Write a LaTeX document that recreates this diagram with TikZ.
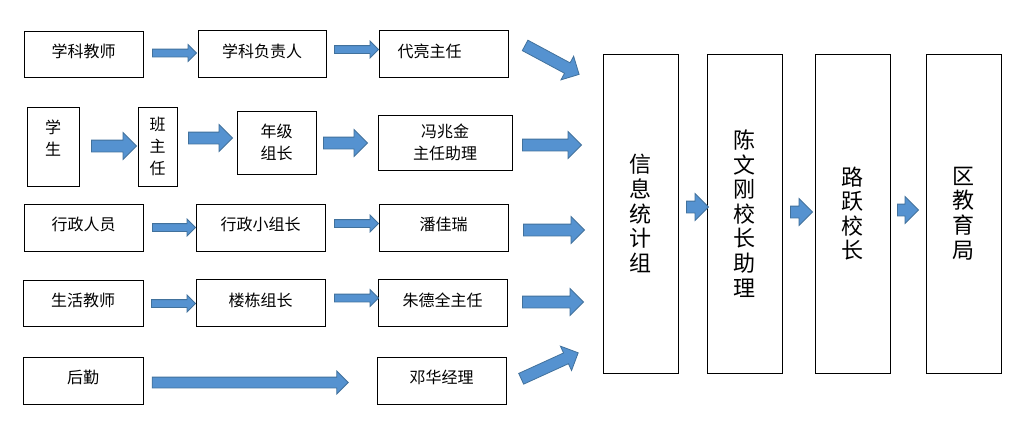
\documentclass[tikz,border=0pt]{standalone}
\usepackage{fontspec}
\newfontfamily\cjk{Noto Sans CJK SC}
\usepackage{tikz}
\usetikzlibrary{positioning, calc, shapes.arrows}

\definecolor{arrfill}{HTML}{5592D0}
\definecolor{arredge}{HTML}{41719C}

% block arrow from tail to tip
\newcommand{\blkarrow}[3]{%
  \path let \p1=#2, \p2=#3, \n1={veclen(\x2-\x1,\y2-\y1)} in
    #2 -- node[sloped, #1, minimum height=\n1] {} #3;}

\begin{document}
\begin{tikzpicture}[
    x=1pt, y=-1pt,
    box/.style={rectangle, draw, line width=1pt, fill=white, inner sep=0pt, align=center, font=\cjk\fontsize{16}{22}\selectfont},
    lift/.style={text depth=7pt},
    cell/.style={box, lift, minimum width=129pt, minimum height=47pt},
    bigbox/.style={box, minimum width=75pt, minimum height=319pt, font=\cjk\fontsize{22}{24.6}\selectfont},
    arr/.style={single arrow, draw=arredge, fill=arrfill, line width=0.8pt, inner xsep=0pt},
    slimarr/.style={arr, inner ysep=3.5pt, minimum width=16pt, single arrow head extend=4.5pt},
    midarr/.style={arr, inner ysep=5pt, minimum width=22pt, single arrow head extend=6pt},
    fatarr/.style={arr, inner ysep=5.5pt, minimum width=26pt, single arrow head extend=7.5pt}
]
    \fill[white] (0,0) rectangle (1027,437);
    \useasboundingbox (0,0) rectangle (1027,437);

    % row 1
    \node[box, lift, minimum width=119pt, minimum height=46pt] (kmjs) at (83.5,54) {学科教师};
    \node[cell, minimum width=128pt, right=54pt of kmjs] (kmfz) {学科负责人};
    \node[cell, right=52pt of kmfz] (dlzr) {代亮主任\hspace*{28pt}};

    % row 2
    \node[box, minimum width=52pt, minimum height=79pt, text depth=17pt] (xs) at (53,146.5) {学\\生};
    \node[box, minimum width=39pt, minimum height=79pt, right=58pt of xs] (bzr) {班\\主\\任};
    \node[box, minimum width=79pt, minimum height=63pt, right=59pt of bzr, yshift=4pt] (njzz) {年级\\组长};
    \node[box, minimum width=134pt, minimum height=55pt, right=61pt of njzz] (fzj) {冯兆金\\主任助理};

    % row 3
    \node[box, lift, minimum width=119pt, minimum height=47pt] (xzry) at (83.5,227.5) {行政人员};
    \node[cell, right=52pt of xzry] (xzxz) {行政小组长};
    \node[cell, right=53pt of xzxz] (pjr) {潘佳瑞};

    % row 4
    \node[box, lift, minimum width=120pt, minimum height=46pt] (shjs) at (83,303) {生活教师};
    \node[cell, right=52pt of shjs] (ldzz) {楼栋组长};
    \node[cell, right=52pt of ldzz] (zdq) {朱德全主任};

    % row 5
    \node[box, lift, minimum width=120pt, minimum height=47pt] (hq) at (83,380.5) {后勤};
    \node[cell, right=233pt of hq] (dh) {邓华经理};

    % right column
    \node[bigbox] (xxtj) at (640.5,213.5) {信\\息\\统\\计\\组};
    \node[bigbox, right=28pt of xxtj] (cwg) {陈\\文\\刚\\校\\长\\助\\理};
    \node[bigbox, right=32pt of cwg] (lyxz) {路\\跃\\校\\长};
    \node[bigbox, right=35pt of lyxz] (qjyj) {区\\教\\育\\局};

    % arrows
    \blkarrow{slimarr}{($(kmjs.east)+(7,-1)$)}{($(kmfz.west)+(-3,-1)$)}
    \blkarrow{slimarr}{($(kmfz.east)+(6,-4.5)$)}{($(dlzr.west)+(-2,-4.5)$)}
    \blkarrow{fatarr}{($(dlzr.east)+(14,-10)$)}{($(xxtj.west)+(-26,-140.5)$)}

    \blkarrow{fatarr}{($(xs.east)+(9,-0.5)$)}{($(bzr.west)+(-4,-0.5)$)}
    \blkarrow{fatarr}{($(bzr.east)+(8,-8.5)$)}{($(njzz.west)+(-7,-4.5)$)}
    \blkarrow{fatarr}{($(njzz.east)+(4,0.5)$)}{($(fzj.west)+(-13,0.5)$)}
    \blkarrow{fatarr}{($(fzj.east)+(7,2.5)$)}{($(xxtj.west)+(-24,-68.5)$)}

    \blkarrow{slimarr}{($(xzry.east)+(7,0)$)}{($(xzxz.west)+(-2,0)$)}
    \blkarrow{slimarr}{($(xzxz.east)+(7,-4)$)}{($(pjr.west)+(-2,-4)$)}
    \blkarrow{fatarr}{($(pjr.east)+(12,2.5)$)}{($(xxtj.west)+(-21,16.5)$)}

    \blkarrow{slimarr}{($(shjs.east)+(6,0.5)$)}{($(ldzz.west)+(-2,0.5)$)}
    \blkarrow{slimarr}{($(ldzz.east)+(7,-5)$)}{($(zdq.west)+(-1,-5)$)}
    \blkarrow{fatarr}{($(zdq.east)+(12,-1)$)}{($(xxtj.west)+(-22,88.5)$)}

    \blkarrow{midarr}{($(hq.east)+(6,2)$)}{($(dh.west)+(-31,2)$)}
    \blkarrow{fatarr}{($(dh.east)+(12,-0.5)$)}{($(xxtj.west)+(-27,140.5)$)}

    \blkarrow{fatarr}{($(xxtj.east)+(5,-6.5)$)}{($(cwg.west)+(-1,-6.5)$)}
    \blkarrow{fatarr}{($(cwg.east)+(5,-1.5)$)}{($(lyxz.west)+(-5,-1.5)$)}
    \blkarrow{fatarr}{($(lyxz.east)+(4,-3.5)$)}{($(qjyj.west)+(-10,-3.5)$)}
\end{tikzpicture}
\end{document}
